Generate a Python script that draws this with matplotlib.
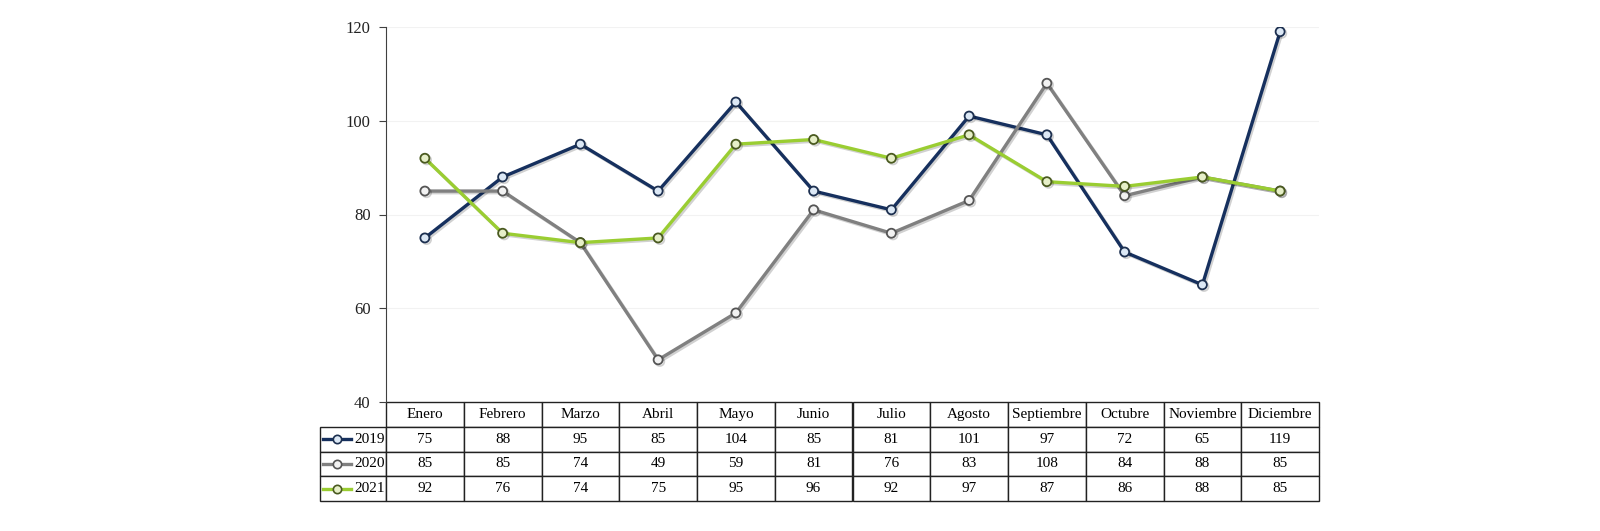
import matplotlib
matplotlib.use('Agg')
import matplotlib.pyplot as plt
import matplotlib.patheffects as pe
from matplotlib.lines import Line2D

# Data
months = ['Enero', 'Febrero', 'Marzo', 'Abril', 'Mayo', 'Junio', 'Julio',
          'Agosto', 'Septiembre', 'Octubre', 'Noviembre', 'Diciembre']
years = ['2019', '2020', '2021']
v2019 = [75, 88, 95, 85, 104, 85, 81, 101, 97, 72, 65, 119]
v2020 = [85, 85, 74, 49, 59, 81, 76, 83, 108, 84, 88, 85]
v2021 = [92, 76, 74, 75, 95, 96, 92, 97, 87, 86, 88, 85]
series = [v2019, v2020, v2021]

line_colors = ['#16305e', '#808080', '#9acd32']
face_colors = ['#dce8f5', '#f2f2f2', '#e6efc8']
edge_colors = ['#1d3050', '#555555', '#4a5a20']

plt.rcParams['font.family'] = ['Liberation Serif', 'DejaVu Serif']

W, H = 1600, 531
fig = plt.figure(figsize=(W / 100, H / 100), dpi=100)

# plot area in pixels
x0, x1 = 386, 1319
y_top, y_bot = 27, 402
ax = fig.add_axes([x0 / W, 1 - y_bot / H, (x1 - x0) / W, (y_bot - y_top) / H])

x = range(len(months))
for vals, lc, fc, ec in zip(series, line_colors, face_colors, edge_colors):
    ax.plot(x, vals, color=lc, lw=2.4, marker='o', ms=6.5,
            markerfacecolor=fc, markeredgecolor=ec, markeredgewidth=1.3,
            path_effects=[pe.SimpleLineShadow(offset=(1.2, -1.2), alpha=0.18),
                          pe.Normal()])

ax.set_xlim(-0.5, len(months) - 0.5)
ax.set_ylim(40, 120)
ax.set_yticks([40, 60, 80, 100, 120])
ax.yaxis.grid(True, color='#f2f2f2', lw=0.8)
ax.set_axisbelow(True)
ax.set_xticks([])
for s in ['top', 'right', 'bottom']:
    ax.spines[s].set_visible(False)
ax.spines['left'].set_color('#404040')
ax.tick_params(axis='y', length=5, color='#404040', labelsize=12, pad=6,
               labelcolor='#222222')

# data table
lab_w = 66
col_w = (x1 - x0) / len(months)
tab_top, tab_bot = 402, 501
cell_text = [[''] + months] + [[y] + [str(v) for v in vals]
                               for y, vals in zip(years, series)]
ax_h = y_bot - y_top
ax_w = x1 - x0
bbox = [-lab_w / ax_w, -(tab_bot - tab_top) / ax_h,
        (ax_w + lab_w) / ax_w, (tab_bot - tab_top) / ax_h]
tab = ax.table(cellText=cell_text, colWidths=[lab_w] + [col_w] * len(months),
               bbox=bbox, cellLoc='center')
tab.auto_set_font_size(False)
tab.set_fontsize(11)
for (r, c), cell in tab.get_celld().items():
    cell.set_edgecolor('#222222')
    cell.set_linewidth(1.0)
    if r == 0 and c == 0:
        cell.visible_edges = ''
    if c == 0 and r > 0:
        cell.get_text().set_ha('right')
        cell.PAD = 0.02

# legend keys inside the row label cells
row_h = (tab_bot - tab_top) / 4
for i, (lc, fc, ec) in enumerate(zip(line_colors, face_colors, edge_colors)):
    yc = 1 - (tab_top + row_h * (i + 1.5)) / H
    xa, xb = 323 / W, 351 / W
    fig.add_artist(Line2D([xa, xb], [yc, yc], transform=fig.transFigure,
                          color=lc, lw=2.4))
    fig.add_artist(Line2D([(xa + xb) / 2], [yc], transform=fig.transFigure,
                          marker='o', ms=6, markerfacecolor=fc,
                          markeredgecolor=ec, markeredgewidth=1.2))

fig.savefig('out.png', dpi=100)
